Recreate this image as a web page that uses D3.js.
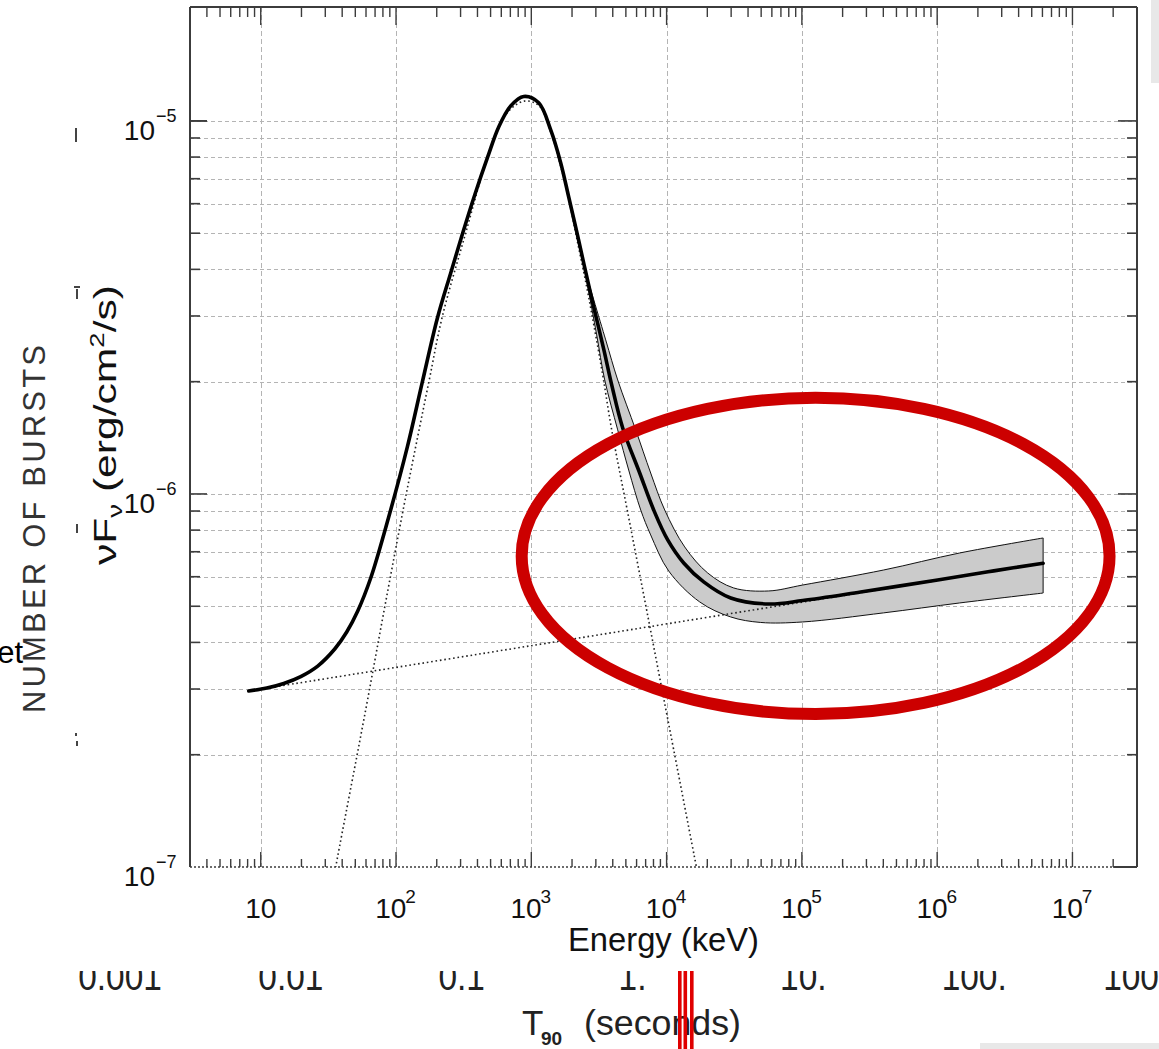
<!DOCTYPE html>
<html>
<head>
<meta charset="utf-8">
<script src="https://cdn.jsdelivr.net/npm/d3@7"></script>
<style>
body { margin: 0; background: #fff; }
svg { display: block; }
text { font-family: "Liberation Sans", Arial, Helvetica, sans-serif; fill: #111; }
</style>
</head>
<body>
<script>
// values: [energy keV, nuFnu erg/cm2/s]
var totalCurve = [
  [8.15, 2.963e-7], [11.08, 3.019e-7], [14.79, 3.105e-7], [19.75, 3.240e-7], [26.38, 3.457e-7],
  [35.24, 3.840e-7], [43.21, 4.266e-7], [52.12, 4.855e-7], [65.01, 5.952e-7], [88.3, 8.675e-7],
  [121.4, 1.339e-6], [156.7, 2.000e-6], [202.3, 2.963e-6], [253.7, 3.913e-6], [311.2, 5.007e-6],
  [381.7, 6.332e-6], [476.1, 8.007e-6], [574.2, 9.636e-6], [704.2, 1.097e-5], [878.8, 1.163e-5],
  [1134, 1.118e-5], [1391, 9.46e-6], [1650, 7.716e-6], [1890, 6.253e-6], [2202, 4.916e-6],
  [2524, 3.937e-6], [2892, 3.171e-6], [3429, 2.446e-6], [3929, 1.960e-6], [4738, 1.503e-6],
  [6327, 1.138e-6], [8028, 9.06e-7], [10190, 7.53e-7], [13380, 6.53e-7], [18800, 5.81e-7],
  [29790, 5.26e-7], [56890, 5.07e-7], [1.014e5, 5.18e-7], [2.72e5, 5.46e-7], [1.009e6, 5.88e-7],
  [2.62e6, 6.22e-7], [6.07e6, 6.52e-7]
];

var bandUpper = [
  [2524, 3.913e-6], [3548, 2.588e-6], [4352, 2.021e-6], [5910, 1.485e-6], [7628, 1.138e-6],
  [9683, 9.06e-7], [13610, 7.21e-7], [20130, 6.14e-7], [31310, 5.598e-7], [56890, 5.495e-7],
  [1.014e5, 5.70e-7], [4.024e5, 6.254e-7], [1.467e6, 6.947e-7], [6.07e6, 7.621e-7]
];

var bandLower = [
  [2524, 3.841e-6], [3043, 2.669e-6], [3488, 2.021e-6], [4352, 1.485e-6], [5247, 1.159e-6],
  [6437, 9.06e-7], [7628, 7.765e-7], [10360, 6.217e-7], [17570, 5.135e-7], [29790, 4.68e-7],
  [49610, 4.524e-7], [1.014e5, 4.538e-7], [4.024e5, 4.80e-7], [1.467e6, 5.103e-7], [6.07e6, 5.425e-7]
];

var bandComponent = [
  [34.0, 8.95e-8], [35.7, 9.93e-8], [51.23, 1.972e-7], [61.77, 2.820e-7], [84.9, 5.26e-7],
  [118, 9.84e-7], [175, 2.00e-6], [220, 2.99e-6], [327, 5.00e-6], [486, 8.19e-6],
  [647, 1.04e-5], [883, 1.13e-5], [1135, 1.10e-5], [1390, 9.35e-6], [1648, 7.57e-6],
  [1890, 6.178e-6], [2202, 4.709e-6], [2568, 3.589e-6], [2942, 2.753e-6], [3371, 2.084e-6],
  [3929, 1.485e-6], [5167, 8.894e-7], [6095, 6.53e-7], [7189, 4.80e-7], [9169, 3.039e-7],
  [11290, 2.06e-7], [16610, 1.00e-7], [17630, 8.95e-8]
];

var powerLaw = [[8.15, 2.963e-7], [1000, 3.92e-7], [6.07e6, 6.52e-7]];

// axis ticks
var xMajor = [10, 1e2, 1e3, 1e4, 1e5, 1e6, 1e7];
var xExponents = ["", "2", "3", "4", "5", "6", "7"];
var yMajor = [1e-7, 1e-6, 1e-5];
var yExponents = ["\u22127", "\u22126", "\u22125"];

// the cut-off duration axis underneath
var t90Values = [0.001, 0.01, 0.1, 1, 10, 100, 1000];
var t90Labels = ["0.001", "0.01", "0.1", "1.", "10.", "100.", "1000."];

// highlighted region (energy / flux extent of the red ring)
var ringE = [849, 1.88e7];
var ringF = [2.57e-7, 1.81e-6];

var width = 1159, height = 1049;
var frame = {left: 190, right: 1137, top: 7, bottom: 867};

var svg = d3.select("body").append("svg")
    .attr("width", width)
    .attr("height", height);

var x = d3.scaleLog().domain([3, 3e7]).range([frame.left, frame.right]);
var y = d3.scaleLog().domain([1e-7, 2.02e-5]).range([frame.bottom, frame.top]);

svg.append("clipPath").attr("id", "plotclip")
  .append("rect")
    .attr("x", frame.left).attr("y", frame.top)
    .attr("width", frame.right - frame.left).attr("height", frame.bottom - frame.top);

//minor tick values
var yMinor = [];
yMajor.forEach(function(d){
    for (var m = 1; m < 10; m++){
        var v = m * d;
        if (v > 1e-7 * 1.001 && v < 1.9e-5) yMinor.push(v);
    }
});
var xMinor = [];
[1, 10, 1e2, 1e3, 1e4, 1e5, 1e6, 1e7].forEach(function(d){
    for (var m = 1; m < 10; m++){
        var v = m * d;
        if (v > 3.05 && v < 2.95e7) xMinor.push(v);
    }
});

//grid
var grid = svg.append("g").attr("class", "grid");
grid.selectAll(".hgrid")
    .data(yMinor)
    .enter()
    .append("line")
    .attr("x1", frame.left).attr("x2", frame.right)
    .attr("y1", function(d){ return Math.round(y(d)) + 0.5; })
    .attr("y2", function(d){ return Math.round(y(d)) + 0.5; })
    .attr("stroke", "#b4b4b4")
    .attr("stroke-width", 1)
    .attr("stroke-dasharray", "4,3");
grid.selectAll(".vgrid")
    .data(xMajor)
    .enter()
    .append("line")
    .attr("y1", frame.top).attr("y2", frame.bottom)
    .attr("x1", function(d){ return Math.round(x(d)) + 0.5; })
    .attr("x2", function(d){ return Math.round(x(d)) + 0.5; })
    .attr("stroke", "#b4b4b4")
    .attr("stroke-width", 1)
    .attr("stroke-dasharray", "5,3");

var smooth = d3.line()
    .x(function(d){ return x(d[0]); })
    .y(function(d){ return y(d[1]); })
    .curve(d3.curveCatmullRom.alpha(0.5));

var plot = svg.append("g").attr("clip-path", "url(#plotclip)");

//uncertainty band: smooth upper edge, straight cut at the end, smooth lower edge back
var bandPath = smooth(bandUpper) + "L" + smooth(bandLower.slice().reverse()).slice(1) + "Z";
plot.append("path")
    .attr("d", bandPath)
    .attr("fill", "#cbcbcb")
    .attr("stroke", "none");

//components
plot.append("path")
    .datum(bandComponent)
    .attr("d", smooth)
    .attr("fill", "none")
    .attr("stroke", "#222")
    .attr("stroke-width", 1.6)
    .attr("stroke-dasharray", "1.6,2.8");
plot.append("path")
    .datum(powerLaw)
    .attr("d", smooth)
    .attr("fill", "none")
    .attr("stroke", "#222")
    .attr("stroke-width", 1.6)
    .attr("stroke-dasharray", "1.6,2.8");

//band outline
plot.append("path")
    .attr("d", bandPath)
    .attr("fill", "none")
    .attr("stroke", "#111")
    .attr("stroke-width", 1);

//total model
plot.append("path")
    .datum(totalCurve)
    .attr("d", smooth)
    .attr("fill", "none")
    .attr("stroke", "#000")
    .attr("stroke-width", 3.6)
    .attr("stroke-linecap", "round");

//frame
var axes = svg.append("g").attr("stroke", "#3c3c3c");
axes.append("line").attr("x1", frame.left).attr("x2", frame.right).attr("y1", frame.top).attr("y2", frame.top).attr("stroke-width", 2);
axes.append("line").attr("x1", frame.left).attr("x2", frame.left).attr("y1", frame.top).attr("y2", frame.bottom).attr("stroke-width", 2);
axes.append("line").attr("x1", frame.right).attr("x2", frame.right).attr("y1", frame.top).attr("y2", frame.bottom).attr("stroke-width", 2);
axes.append("line").attr("x1", frame.left).attr("x2", x(2e7)).attr("y1", frame.bottom).attr("y2", frame.bottom)
    .attr("stroke-width", 1.5).attr("stroke-dasharray", "2,2");
axes.append("line").attr("x1", x(2e7)).attr("x2", frame.right).attr("y1", frame.bottom).attr("y2", frame.bottom).attr("stroke-width", 2);

function isMajor(v, list){
    return list.some(function(m){ return Math.abs(v / m - 1) < 1e-6; });
}

//y ticks both sides
axes.selectAll(".ytl")
    .data(yMinor.concat([1e-5]))
    .enter()
    .append("line")
    .attr("x1", frame.left)
    .attr("x2", function(d){ return frame.left + (isMajor(d, yMajor) ? 17 : 10); })
    .attr("y1", function(d){ return y(d); })
    .attr("y2", function(d){ return y(d); })
    .attr("stroke-width", 1.6);
axes.selectAll(".ytr")
    .data(yMinor)
    .enter()
    .append("line")
    .attr("x1", frame.right)
    .attr("x2", function(d){ return frame.right - (isMajor(d, yMajor) ? 19 : 10); })
    .attr("y1", function(d){ return y(d); })
    .attr("y2", function(d){ return y(d); })
    .attr("stroke-width", 1.6);

//x ticks top and bottom
axes.selectAll(".xtt")
    .data(xMinor)
    .enter()
    .append("line")
    .attr("x1", function(d){ return x(d); })
    .attr("x2", function(d){ return x(d); })
    .attr("y1", frame.top)
    .attr("y2", function(d){ return frame.top + (isMajor(d, xMajor) ? 18 : 10); })
    .attr("stroke-width", 1.4);
axes.selectAll(".xtb")
    .data(xMinor)
    .enter()
    .append("line")
    .attr("x1", function(d){ return x(d); })
    .attr("x2", function(d){ return x(d); })
    .attr("y1", frame.bottom)
    .attr("y2", function(d){ return frame.bottom - (isMajor(d, xMajor) ? 15 : 8); })
    .attr("stroke-width", 1.4);

//y tick labels
var ylab = svg.append("g");
yMajor.forEach(function(v, i){
    ylab.append("text")
        .attr("x", 155).attr("y", y(v) + 19)
        .attr("text-anchor", "end")
        .attr("font-size", 28)
        .text("10");
    ylab.append("text")
        .attr("x", 156).attr("y", y(v) + 1)
        .attr("font-size", 18)
        .text(yExponents[i]);
});

//x tick labels
var xlab = svg.append("g");
xMajor.forEach(function(v, i){
    var cx = x(v);
    var supW = xExponents[i] ? 10.5 : 0;
    var left = cx - (31 + supW) / 2;
    xlab.append("text")
        .attr("x", left).attr("y", 918)
        .attr("font-size", 28)
        .text("10");
    if (xExponents[i]) {
        xlab.append("text")
            .attr("x", left + 30).attr("y", 903)
            .attr("font-size", 19)
            .text(xExponents[i]);
    }
});

//axis titles
svg.append("text")
    .attr("x", 568).attr("y", 951)
    .attr("font-size", 33)
    .attr("textLength", 191)
    .attr("lengthAdjust", "spacingAndGlyphs")
    .text("Energy (keV)");

var yTitle = svg.append("text")
    .attr("transform", "translate(116,565) rotate(-90)")
    .attr("font-size", 31)
    .attr("textLength", 280)
    .attr("lengthAdjust", "spacingAndGlyphs");
yTitle.append("tspan").text("\u03bdF");
yTitle.append("tspan").attr("font-size", 20).attr("dy", 6).text("\u03bd");
yTitle.append("tspan").attr("dy", -6).text(" (erg/cm");
yTitle.append("tspan").attr("font-size", 20).attr("dy", -12).text("2");
yTitle.append("tspan").attr("dy", 12).text("/s)");

//underlying chart remnants
svg.append("text")
    .attr("transform", "translate(45,713) rotate(-90)")
    .attr("font-size", 31)
    .attr("textLength", 368)
    .attr("lengthAdjust", "spacing")
    .style("fill", "#333")
    .text("NUMBER OF BURSTS");

svg.append("text")
    .attr("x", 23).attr("y", 663)
    .attr("text-anchor", "end")
    .attr("font-size", 31)
    .style("fill", "#000")
    .text("et");

var fragments = [[75, 128, 2, 14], [74, 286, 6, 2], [76, 289, 2, 10], [76, 524, 2, 9], [75, 733, 2, 3], [76, 741, 2, 5]];
svg.selectAll(".frag")
    .data(fragments)
    .enter()
    .append("rect")
    .attr("x", function(d){ return d[0]; })
    .attr("y", function(d){ return d[1]; })
    .attr("width", function(d){ return d[2]; })
    .attr("height", function(d){ return d[3]; })
    .attr("fill", "#444");

svg.append("clipPath").attr("id", "stripclip")
  .append("rect").attr("x", 0).attr("y", 971).attr("width", width).attr("height", height - 971);

var t = d3.scaleLog().domain([0.001, 1000]).range([120, 1145]);
var strip = svg.append("g").attr("clip-path", "url(#stripclip)");
strip.selectAll(".t90")
    .data(t90Values)
    .enter()
    .append("text")
    .attr("transform", function(d){ return "translate(" + t(d) + ",990) scale(0.88,1)"; })
    .attr("text-anchor", "middle")
    .attr("font-size", 38)
    .style("fill", "#222")
    .text(function(d, i){ return t90Labels[i]; });

svg.append("text").attr("x", 522).attr("y", 1035).attr("font-size", 35).style("fill", "#222").text("T");
svg.append("text").attr("x", 541).attr("y", 1045).attr("font-size", 19).attr("font-weight", "bold").style("fill", "#222").text("90");
svg.append("text").attr("x", 584).attr("y", 1035).attr("font-size", 35)
    .attr("textLength", 157).attr("lengthAdjust", "spacingAndGlyphs")
    .style("fill", "#222").text("(seconds)");

//red marker bars
svg.selectAll(".redbar")
    .data([678, 683.5, 690])
    .enter()
    .append("rect")
    .attr("x", function(d){ return d; })
    .attr("y", 971)
    .attr("width", 3.6)
    .attr("height", height - 971)
    .attr("fill", "#e00000");

//page edges
svg.append("rect").attr("x", 1151).attr("y", 0).attr("width", 8).attr("height", 83).attr("fill", "#e8e8e8");
svg.append("rect").attr("x", 980).attr("y", 1043).attr("width", 179).attr("height", 6).attr("fill", "#e8e8e8");

//red ring
svg.append("ellipse")
    .attr("cx", (x(ringE[0]) + x(ringE[1])) / 2)
    .attr("cy", (y(ringF[0]) + y(ringF[1])) / 2)
    .attr("rx", (x(ringE[1]) - x(ringE[0])) / 2)
    .attr("ry", (y(ringF[0]) - y(ringF[1])) / 2)
    .attr("fill", "none")
    .attr("stroke", "#cc0000")
    .attr("stroke-width", 12);
</script>
</body>
</html>
